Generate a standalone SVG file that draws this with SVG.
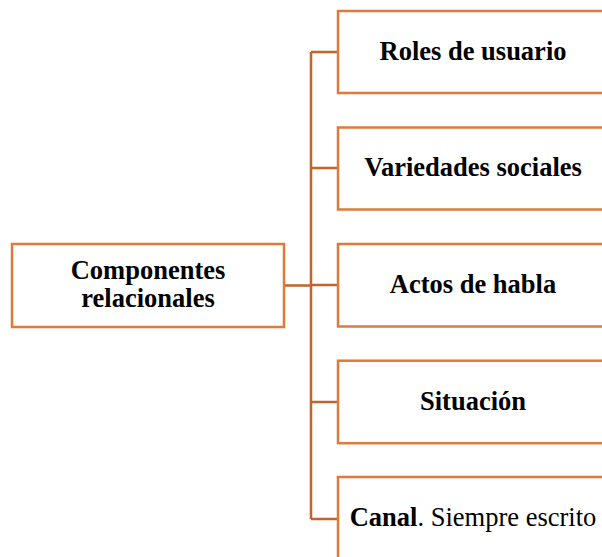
<svg xmlns="http://www.w3.org/2000/svg" width="602" height="557" viewBox="0 0 602 557">
<style>
.box{fill:#fff;stroke:#E2793A;stroke-width:2.5}
.con{fill:none;stroke:#C4632B;stroke-width:2.5}
text{font-family:"Liberation Serif","Times New Roman",serif;font-size:26.5px;fill:#000;text-anchor:middle}
.b{font-weight:bold}
</style>
<rect width="602" height="557" fill="#fff"/>
<g id="connectors">
<path class="con" d="M284 285.5H311M311 52V519M311 52H338M311 168H338M311 285H338M311 402H338M311 519H338"/>
</g>
<g id="n0"><rect class="box" x="12" y="244" width="272" height="83"/>
<text class="b" x="148" y="279">Componentes</text><text class="b" x="148" y="307">relacionales</text></g>
<g id="n1"><rect class="box" x="338" y="11" width="280" height="82"/><text class="b" x="473" y="59.5">Roles de usuario</text></g>
<g id="n2"><rect class="box" x="338" y="127.5" width="280" height="82"/><text class="b" x="473" y="176">Variedades sociales</text></g>
<g id="n3"><rect class="box" x="338" y="244" width="280" height="82.5"/><text class="b" x="473" y="292.5">Actos de habla</text></g>
<g id="n4"><rect class="box" x="338" y="360.7" width="280" height="82.5"/><text class="b" x="473" y="409.5">Situación</text></g>
<g id="n5"><rect class="box" x="338" y="477" width="280" height="90"/><text x="473" y="525.5"><tspan class="b">Canal</tspan>. Siempre escrito</text></g>
</svg>
